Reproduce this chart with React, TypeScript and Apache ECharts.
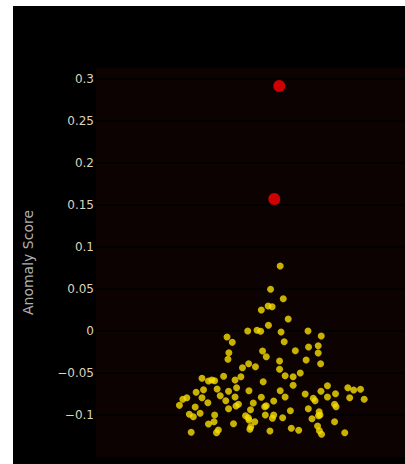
import React, { useEffect, useRef } from "react";
import * as echarts from "echarts";

// Jitter position (0-100, hidden axis) and anomaly score for normal points
const normalX: number[] = [
  59.6, 56.5, 60.6, 53.5, 55.7, 57.0, 62.2, 55.8, 49.1, 52.1, 53.3, 59.9, 68.6, 72.9, 42.4, 44.1, 60.9, 68.8, 71.9, 64.5,
  53.9, 55.1, 43.0, 42.7, 71.9, 68.0, 59.4, 72.7, 49.4,
  47.4, 51.6, 34.3, 36.4, 37.5, 38.4, 41.3, 45.0, 46.9, 54.1, 32.4, 34.8, 39.2, 42.9, 45.5, 49.5, 29.4, 28.1, 27.0, 34.3,
  40.2, 45.0, 53.5, 36.2, 42.0, 46.1, 45.3, 50.9, 32.1, 42.9, 50.0, 54.6, 55.1, 30.2, 31.5, 33.7, 38.4, 48.4, 49.3, 49.5,
  54.8, 38.2, 36.4, 44.5, 51.4, 50.1, 49.8, 39.6, 39.0, 30.8, 56.3,
  59.4, 61.2, 63.8, 66.1, 63.8, 74.9, 81.5, 83.4, 85.6, 59.6, 67.7, 72.8, 77.5, 61.2, 70.3, 70.9, 74.9, 82.1, 86.8, 57.5,
  68.7, 77.2, 77.7, 62.9, 57.5, 57.1, 60.4, 72.2, 72.5, 72.0, 69.9, 77.2, 63.2, 65.6, 71.7, 72.3, 73.0, 80.5,
];
const normalScore: number[] = [
  0.0774, 0.0496, 0.0385, 0.025, 0.0298, 0.0289, 0.0143, 0.0068, 0.0, 0.0008, -0.0004, -0.0012, 0.0, -0.006, -0.0071,
  -0.0135, -0.0127, -0.019, -0.0175, -0.0235, -0.0238, -0.0306, -0.0258, -0.0337, -0.0262, -0.0345, -0.0357, -0.0389,
  -0.0389,
  -0.0437, -0.0425, -0.0563, -0.0595, -0.0583, -0.0592, -0.0539, -0.0583, -0.0544, -0.0604, -0.073, -0.0699, -0.069,
  -0.0718, -0.0675, -0.0711, -0.0794, -0.0813, -0.0885, -0.0794, -0.077, -0.0786, -0.0789, -0.0854, -0.083, -0.0873,
  -0.0893, -0.0857, -0.0905, -0.0925, -0.0937, -0.0901, -0.0889, -0.0992, -0.102, -0.098, -0.1, -0.1008, -0.1032, -0.106,
  -0.1, -0.108, -0.1107, -0.1104, -0.108, -0.114, -0.117, -0.1179, -0.121, -0.1206, -0.119,
  -0.0456, -0.0532, -0.0544, -0.05, -0.0646, -0.0651, -0.0675, -0.0702, -0.0694, -0.0711, -0.075, -0.0718, -0.0746,
  -0.0786, -0.0801, -0.083, -0.0786, -0.0794, -0.0813, -0.0833, -0.0925, -0.0873, -0.0901, -0.0949, -0.1, -0.1039,
  -0.1032, -0.0961, -0.1, -0.1008, -0.1044, -0.108, -0.1158, -0.1182, -0.113, -0.1187, -0.1229, -0.1211,
];
// Anomalies
const anomalyX: number[] = [59.3, 57.7];
const anomalyScore: number[] = [0.2917, 0.1571];

const yMin = -0.15;
const yMax = 0.3131;
const yInterval = 0.05;

export default function App() {
  const ref = useRef<HTMLDivElement>(null);
  useEffect(() => {
    if (!ref.current) return;
    const chart = echarts.init(ref.current, undefined, { renderer: "svg" });
    const normal = normalX.map((x, i) => [x, normalScore[i]]);
    const anomalies = anomalyX.map((x, i) => [x, anomalyScore[i]]);
    chart.setOption({
      animation: false,
      backgroundColor: "#000000",
      grid: {
        left: 80,
        right: 0,
        top: 62,
        bottom: 7,
        show: true,
        backgroundColor: "#0c0202",
        borderWidth: 0,
      },
      xAxis: {
        type: "value",
        min: 0,
        max: 100,
        show: false,
        splitLine: { show: false },
      },
      yAxis: {
        type: "value",
        min: yMin,
        max: yMax,
        interval: yInterval,
        name: "Anomaly Score",
        nameLocation: "middle",
        nameGap: 61,
        nameTextStyle: {
          color: "#b0b0b0",
          fontFamily: "DejaVu Sans",
          fontSize: 14,
        },
        axisLine: { show: false },
        axisTick: { show: false },
        axisLabel: {
          color: "#dcd3ba",
          fontFamily: "DejaVu Sans",
          fontSize: 12,
          margin: 2,
          showMinLabel: false,
          showMaxLabel: false,
          formatter: (v: number) => {
            const r = Math.round(v * 1000) / 1000;
            if (r < 0) return "\u2212" + String(Math.abs(r));
            return String(r);
          },
        },
        splitLine: {
          show: true,
          showMinLine: false,
          showMaxLine: false,
          lineStyle: { color: "#000000", width: 1.5 },
        },
      },
      series: [
        {
          type: "scatter",
          data: normal,
          symbolSize: 7,
          itemStyle: { color: "#f7dd00" },
        },
        {
          type: "scatter",
          data: anomalies,
          symbolSize: 12,
          itemStyle: { color: "#ff0000" },
        },
      ],
    });
    return () => chart.dispose();
  }, []);
  return (
    <div
      ref={ref}
      style={{ position: "absolute", left: 13, top: 6, width: 392, height: 458 }}
    />
  );
}
